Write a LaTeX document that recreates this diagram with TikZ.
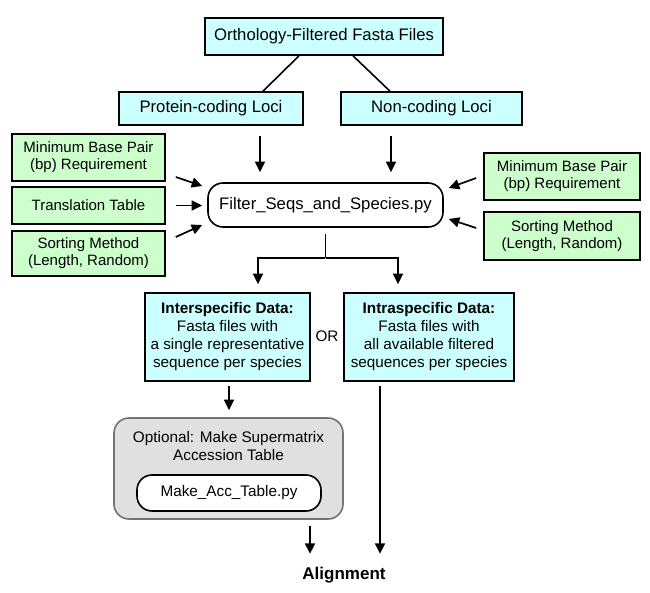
\documentclass[tikz,border=0pt]{standalone}
\usepackage{fontspec}
\setmainfont{Liberation Sans}
\usetikzlibrary{arrows.meta,calc}
\definecolor{cyanfill}{HTML}{CCFFFF}
\definecolor{greenfill}{HTML}{CCFFCC}
\definecolor{grayfill}{HTML}{E0E0E0}
\tikzset{
  box/.style={draw, line width=1.6pt, inner sep=0pt, align=center},
  cyanbox/.style={box, fill=cyanfill},
  greenbox/.style={box, fill=greenfill, font=\fontsize{15}{17}\selectfont},
  scriptbox/.style={box, fill=white, rounded corners=15pt},
  conn/.style={line width=1.6pt},
  arr/.style={line width=1.7pt, -{Triangle[length=10.5pt,width=10pt]}},
}
\begin{document}
\begin{tikzpicture}[x=1pt,y=-1pt]
\useasboundingbox[fill=white] (0,0) rectangle (650,593);
% top level
\node[cyanbox, minimum width=238pt, minimum height=37pt, font=\fontsize{16.7}{19}\selectfont] (top) at (324,36.5) {Orthology-Filtered Fasta Files};
\node[cyanbox, minimum width=184pt, minimum height=33pt, font=\fontsize{16.7}{19}\selectfont] (prot) at (211,108.5) {Protein-coding Loci};
\node[cyanbox, minimum width=181pt, minimum height=33pt, font=\fontsize{16.7}{19}\selectfont] (nonc) at (431.5,108.5) {Non-coding Loci};
% script
\node[scriptbox, minimum width=235pt, minimum height=44pt, font=\fontsize{16.7}{19}\selectfont] (filter) at (325.5,205) {Filter\_Seqs\_and\_Species.py};
% parameters left
\node[greenbox, minimum width=153pt, minimum height=47pt] (gL1) at (88.5,157.5) {Minimum Base Pair\\(bp) Requirement};
\node[greenbox, minimum width=153pt, minimum height=37pt] (gL2) at (88.5,205.5) {Translation Table};
\node[greenbox, minimum width=153pt, minimum height=45pt] (gL3) at (88.5,253.5) {Sorting Method\\(Length, Random)};
% parameters right
\node[greenbox, minimum width=156pt, minimum height=47pt] (gR1) at (562,176.5) {Minimum Base Pair\\(bp) Requirement};
\node[greenbox, minimum width=156pt, minimum height=48pt] (gR2) at (562,236) {Sorting Method\\(Length, Random)};
% data boxes
\node[cyanbox, minimum width=165pt, minimum height=88pt, font=\fontsize{15.3}{18}\selectfont] (inter) at (227.5,337) {\textbf{Interspecific Data:}\\Fasta files with\\a single representative\\sequence per species};
\node[cyanbox, minimum width=170pt, minimum height=88pt, font=\fontsize{15.3}{18}\selectfont] (intra) at (429,337) {\textbf{Intraspecific Data:}\\Fasta files with\\all available filtered\\sequences per species};
\node[font=\fontsize{15.3}{18}\selectfont, inner sep=0pt] (or) at (327,336) {OR};
% optional
\node[draw=black!55, fill=grayfill, line width=1.6pt, rounded corners=15pt, minimum width=229pt, minimum height=101pt, inner sep=0pt] (gray) at (228.5,468.5) {};
\node[align=center, font=\fontsize{15.3}{18}\selectfont, inner sep=0pt] (grayt) at (228.5,446) {Optional: Make Supermatrix\\Accession Table};
\node[scriptbox, minimum width=184pt, minimum height=36pt, font=\fontsize{15.3}{18}\selectfont] (acc) at (229,493) {Make\_Acc\_Table.py};
\node[font=\bfseries\fontsize{17}{20}\selectfont, inner sep=0pt] (align) at (344,575) {Alignment};
% connectors
\draw[conn] ([xshift=-25pt]top.south) -- ([xshift=52pt]prot.north);
\draw[conn] ([xshift=29pt]top.south) -- ([xshift=-41.5pt]nonc.north);
\draw[arr] ([xshift=49pt,yshift=-10pt]prot.south) -- ([xshift=-65.5pt,yshift=10pt]filter.north);
\draw[arr] ([xshift=-40.5pt,yshift=-10pt]nonc.south) -- ([xshift=65.5pt,yshift=10pt]filter.north);
\draw[arr] ([xshift=10pt,yshift=-19.5pt]gL1.east) -- ([xshift=-5pt,yshift=19pt]filter.west);
\draw[arr] ([xshift=10pt]gL2.east) -- ([xshift=-5pt,yshift=-0.5pt]filter.west);
\draw[arr] ([xshift=10pt,yshift=16.5pt]gL3.east) -- ([xshift=-5pt,yshift=-20pt]filter.west);
\draw[arr] ([xshift=-7pt,yshift=-1.5pt]gR1.west) -- ([xshift=5pt,yshift=17pt]filter.east);
\draw[arr] ([xshift=-7pt,yshift=8pt]gR2.west) -- ([xshift=5pt,yshift=-14pt]filter.east);
\draw[conn] ([yshift=-6pt]filter.south) -- ++(0,24) coordinate (split);
\draw[arr] ([xshift=-0.8pt]split) -| ([xshift=30.5pt,yshift=8pt]inter.north);
\draw[arr] ([xshift=0.8pt]split) -| ([xshift=-31pt,yshift=8pt]intra.north);
\draw[arr] ([xshift=1.5pt,yshift=-4pt]inter.south) -- ([xshift=0.5pt,yshift=7pt]gray.north);
\draw[arr] ([xshift=81.5pt,yshift=-6pt]gray.south) -- ++(0,28);
\draw[arr] ([xshift=-49pt,yshift=-4pt]intra.south) -- ++(0,168);
\end{tikzpicture}
\end{document}
